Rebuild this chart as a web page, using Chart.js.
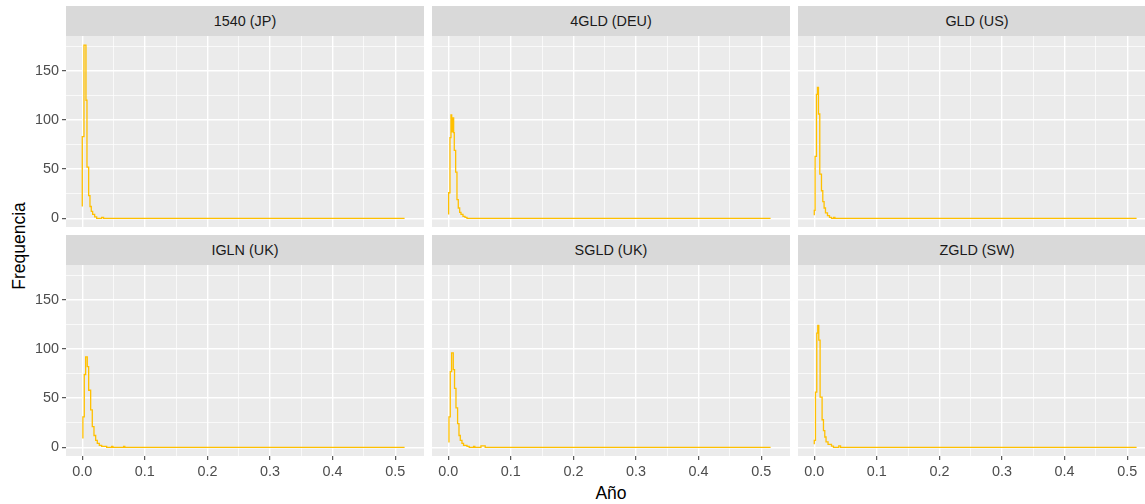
<!DOCTYPE html>
<html>
<head>
<meta charset="utf-8">
<script src="https://cdn.jsdelivr.net/npm/chart.js@4.4.0/dist/chart.umd.min.js"></script>
<style>
  body { margin: 0; background: #fff; }
  #wrap { position: relative; width: 1145px; height: 504px; overflow: hidden; background: #fff;
          font-family: "Liberation Sans", Arial, sans-serif; }
  .strip { position: absolute; background: #D9D9D9; color: #1A1A1A; font-size: 14.4px;
           display: flex; align-items: center; justify-content: center; }
  .panel { position: absolute; }
  .title { position: absolute; color: #000; font-size: 17.5px; white-space: nowrap; }
</style>
</head>
<body>
<div id="wrap">
  <div class="title" id="ytitle" style="left:19px;top:246px;transform:translate(-50%,-50%) rotate(-90deg);">Frequencia</div>
  <div class="title" style="left:611px;top:493px;transform:translate(-50%,-50%);">Año</div>
</div>
<script>
// facet labels
const panelTitles = ['1540 (JP)', '4GLD (DEU)', 'GLD (US)', 'IGLN (UK)', 'SGLD (UK)', 'ZGLD (SW)'];

// axis ticks (majors labelled, minors only drawn as grid)
const xTicks = [0, 0.1, 0.2, 0.3, 0.4, 0.5];
const xMinor = [0.05, 0.15, 0.25, 0.35, 0.45];
const yTicks = [0, 50, 100, 150];
const yMinor = [25, 75, 125, 175];

// series values (x = Año, y = Frequencia)
const jpX = [0, 0, 0.0027, 0.0059, 0.0075, 0.0102, 0.0123, 0.0144, 0.0166, 0.0198, 0.023, 0.031, 0.034, 0.515];
const jpY = [12, 83, 176, 120, 52, 23, 12, 7, 4, 1.5, 0, 1, 0, 0];

const deuX = [0.0006, 0.0006, 0.0027, 0.0043, 0.0055, 0.0066, 0.0086, 0.0096, 0.0118, 0.0139, 0.016, 0.0182, 0.0203, 0.0235, 0.0267, 0.0299, 0.515];
const deuY = [4, 26, 82, 105, 88, 102, 87, 69, 47, 19, 10.5, 6, 4, 2, 1, 0, 0];

const usX = [0, 0, 0.0013, 0.0035, 0.0051, 0.0067, 0.0088, 0.0115, 0.0136, 0.0157, 0.0179, 0.0211, 0.0243, 0.0275, 0.031, 0.033, 0.515];
const usY = [3, 8, 63, 126, 133, 106, 45, 28, 17, 10.5, 5.5, 2.7, 1, 0, 1, 0, 0];

const iglnX = [0.001, 0.001, 0.0032, 0.0054, 0.008, 0.0102, 0.0134, 0.016, 0.0187, 0.0214, 0.024, 0.0272, 0.031, 0.039, 0.047, 0.049, 0.066, 0.068, 0.515];
const iglnY = [9, 31, 74, 92, 82, 58, 38, 21, 12, 7, 4, 2, 1, 0, 1, 0, 1, 0, 0];

const sgldX = [0.0011, 0.0011, 0.0032, 0.0053, 0.008, 0.01, 0.0123, 0.0149, 0.0171, 0.0192, 0.0219, 0.0244, 0.0299, 0.0335, 0.0404, 0.0425, 0.0522, 0.059, 0.515];
const sgldY = [5, 31, 77, 96, 79, 60, 40, 24, 12, 7, 4, 2, 1, 0, 1, 0, 1.5, 0, 0];

const swX = [0, 0, 0.0019, 0.004, 0.0056, 0.0072, 0.0093, 0.0125, 0.0147, 0.0168, 0.0188, 0.022, 0.0275, 0.0307, 0.0391, 0.042, 0.515];
const swY = [3, 7, 56, 116, 124, 109, 51, 28, 17, 10.5, 5.5, 3, 1.3, 0, 1.5, 0, 0];

const seriesX = [jpX, deuX, usX, iglnX, sgldX, swX];
const seriesY = [jpY, deuY, usY, iglnY, sgldY, swY];

const lineColor = '#FFC000';
const fontFamily = '"Liberation Sans", Arial, sans-serif';

// layout of the facet grid, in pixels
const colLeft = [66, 432, 798];
const panelW = 358;
const stripTop = [6, 235];
const stripH = 30;
const plotTop = [36, 265];
const plotH = 191;
const yAxisW = 66;
const xAxisH = 48;

const panelBg = {
  id: 'panelBg',
  beforeDraw(chart) {
    const { ctx, chartArea: a } = chart;
    ctx.save();
    ctx.fillStyle = '#EBEBEB';
    ctx.fillRect(a.left, a.top, a.right - a.left, a.bottom - a.top);
    ctx.restore();
  }
};

const isMajorX = v => xTicks.some(t => Math.abs(t - v) < 1e-9);
const isMajorY = v => yTicks.includes(v);

const wrap = document.getElementById('wrap');

panelTitles.forEach((name, i) => {
  const r = Math.floor(i / 3), c = i % 3;
  const leftCol = c === 0, bottomRow = r === 1;

  const strip = document.createElement('div');
  strip.className = 'strip';
  strip.style.left = colLeft[c] + 'px';
  strip.style.top = stripTop[r] + 'px';
  strip.style.width = panelW + 'px';
  strip.style.height = stripH + 'px';
  strip.textContent = name;
  wrap.appendChild(strip);

  const w = panelW + (leftCol ? yAxisW : 0);
  const h = plotH + (bottomRow ? xAxisH : 0);
  const box = document.createElement('div');
  box.className = 'panel';
  box.style.left = (colLeft[c] - (leftCol ? yAxisW : 0)) + 'px';
  box.style.top = plotTop[r] + 'px';
  const canvas = document.createElement('canvas');
  canvas.width = w;
  canvas.height = h;
  box.appendChild(canvas);
  wrap.appendChild(box);

  const pts = seriesX[i].map((x, k) => ({ x: x, y: seriesY[i][k] }));

  new Chart(canvas.getContext('2d'), {
    type: 'line',
    data: {
      datasets: [{
        data: pts,
        borderColor: lineColor,
        borderWidth: 1.3,
        pointRadius: 0,
        stepped: 'before',
        fill: false
      }]
    },
    options: {
      responsive: false,
      animation: false,
      devicePixelRatio: 1,
      layout: { padding: 0 },
      plugins: { legend: { display: false }, tooltip: { enabled: false } },
      scales: {
        x: {
          type: 'linear',
          min: -0.026,
          max: 0.546,
          afterBuildTicks: s => { s.ticks = xTicks.concat(xMinor).sort((a, b) => a - b).map(v => ({ value: v })); },
          afterFit: s => {
            s.height = bottomRow ? xAxisH : 0;
            s.paddingLeft = 0; s.paddingRight = 0;
          },
          border: { display: false },
          grid: {
            color: '#FFFFFF',
            lineWidth: ctx => isMajorX(ctx.tick.value) ? 1.4 : 0.7,
            drawTicks: bottomRow,
            tickLength: 4,
            tickWidth: 1,
            tickColor: ctx => isMajorX(ctx.tick.value) ? '#333333' : 'rgba(0,0,0,0)'
          },
          ticks: {
            display: bottomRow,
            autoSkip: false,
            maxRotation: 0,
            padding: 3,
            color: '#4D4D4D',
            font: { family: fontFamily, size: 14.4 },
            callback: v => isMajorX(v) ? v.toFixed(1) : ''
          }
        },
        y: {
          type: 'linear',
          min: -8.83,
          max: 185.3,
          afterBuildTicks: s => { s.ticks = yTicks.concat(yMinor).sort((a, b) => a - b).map(v => ({ value: v })); },
          afterFit: s => {
            s.width = leftCol ? yAxisW : 0;
            s.paddingTop = 0; s.paddingBottom = 0;
          },
          border: { display: false },
          grid: {
            color: '#FFFFFF',
            lineWidth: ctx => isMajorY(ctx.tick.value) ? 1.4 : 0.7,
            drawTicks: leftCol,
            tickLength: 4,
            tickWidth: 1,
            tickColor: ctx => isMajorY(ctx.tick.value) ? '#333333' : 'rgba(0,0,0,0)'
          },
          ticks: {
            display: leftCol,
            autoSkip: false,
            padding: 3,
            color: '#4D4D4D',
            font: { family: fontFamily, size: 14.4 },
            callback: v => isMajorY(v) ? String(v) : ''
          }
        }
      }
    },
    plugins: [panelBg]
  });
});
</script>
</body>
</html>
